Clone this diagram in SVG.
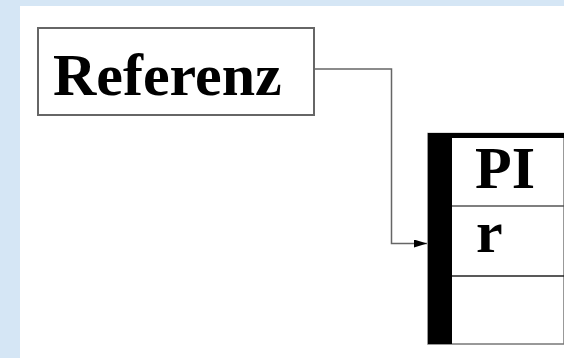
<svg xmlns="http://www.w3.org/2000/svg" width="564" height="358" viewBox="0 0 564 358">
<style>
.t{font-family:"Liberation Serif","Times New Roman",serif;font-weight:bold;font-size:60px;fill:#000}
.ln{fill:none;stroke:#666;stroke-width:1.5}
.box{fill:#fff;stroke:#666;stroke-width:2}
</style>
<defs>
<marker id="ah" markerWidth="13" markerHeight="8" refX="13" refY="4" orient="auto" markerUnits="userSpaceOnUse">
<path d="M0,0 L13,4 L0,8 Z" fill="#000"/>
</marker>
</defs>
<rect x="0" y="0" width="564" height="358" fill="#d5e6f5"/>
<rect x="20" y="6" width="544" height="352" fill="#fff"/>
<g id="referenz">
<rect class="box" x="38" y="28" width="276" height="87"/>
<text class="t" x="53" y="95">Referenz</text>
</g>
<g id="objekt">
<rect x="428" y="133.5" width="136" height="210.5" fill="#fff" stroke="#777" stroke-width="1.5"/>
<rect x="428" y="133" width="24" height="211" fill="#000"/>
<rect x="428" y="133" width="136" height="5" fill="#000"/>
<line x1="452" y1="206" x2="564" y2="206" stroke="#555" stroke-width="1.5"/>
<line x1="452" y1="276" x2="564" y2="276" stroke="#222" stroke-width="1.5"/>
<text class="t" x="475" y="188">PI</text>
<text class="t" x="476" y="252">r</text>
</g>
<g id="connectors">
<polyline class="ln" points="314,69 391.5,69 391.5,243.5 427,243.5" marker-end="url(#ah)"/>
</g>
</svg>
